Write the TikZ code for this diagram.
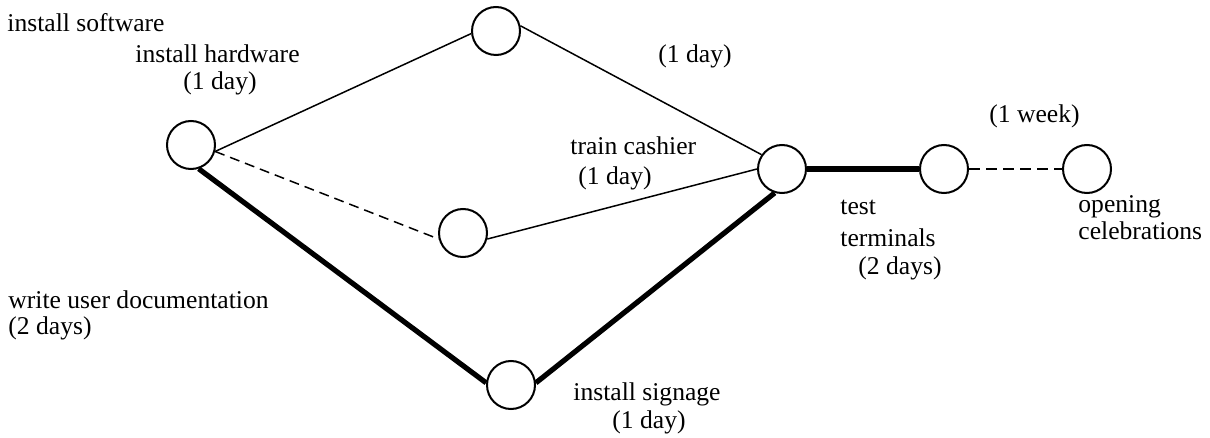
\documentclass[tikz,border=0pt]{standalone}
\usepackage{fontspec}
\setmainfont{Liberation Serif}
\usepackage{tikz}

\tikzset{
  event/.style={draw,circle,line width=1pt,minimum size=24pt,inner sep=0pt},
  task/.style={line width=.75pt},
  crit/.style={line width=2.6pt},
  dummy/.style={line width=.75pt,dash pattern=on 5pt off 3pt},
  lag/.style={line width=1.3pt,dash pattern=on 5.5pt off 3pt},
  lbl/.style={anchor=base west,inner sep=0pt,font=\fontsize{12.8}{14}\selectfont}
}

\begin{document}
\begin{tikzpicture}[x=.5pt,y=-.5pt]
\useasboundingbox (0,0) rectangle (1210,438);
% events
\node[event] (a) at (191,145) {};
\node[event] (b) at (496,31) {};
\node[event] (c) at (463,233) {};
\node[event] (d) at (511,385) {};
\node[event] (e) at (782,169) {};
\node[event] (f) at (944,169) {};
\node[event] (g) at (1087,169) {};
% activities
\draw[task] (a.-15) -- (b.186);
\draw[dummy] (a.-15) -- (c.194);
\draw[crit] (a.-72) -- (d.175);
\draw[task] (b.12) -- (e.145);
\draw[task] (c.-14) -- (e.west);
\draw[crit] (d.5) -- (e.253);
\draw[crit] (e.east) -- (f.west);
\draw[lag] (f.east) -- (g.west);
% labels
\node[lbl] (sw) at (7,32) {install software};
\node[lbl] (hw1) at (135,63) {install hardware};
\node[lbl] (hw2) at (183,90) {(1 day)};
\node[lbl] (be) at (658,63) {(1 day)};
\node[lbl] (ce1) at (570,155) {train cashier};
\node[lbl] (ce2) at (578,185) {(1 day)};
\node[lbl] (fg) at (989,123) {(1 week)};
\node[lbl] (ef1) at (840,215) {test};
\node[lbl] (ef2) at (840,247) {terminals};
\node[lbl] (ef3) at (858,275) {(2 days)};
\node[lbl] (g1) at (1078,213) {opening};
\node[lbl] (g2) at (1078,240) {celebrations};
\node[lbl] (ad1) at (8,308) {write user documentation};
\node[lbl] (ad2) at (8,335) {(2 days)};
\node[lbl] (de1) at (573,400) {install signage};
\node[lbl] (de2) at (612,428) {(1 day)};
\end{tikzpicture}
\end{document}
